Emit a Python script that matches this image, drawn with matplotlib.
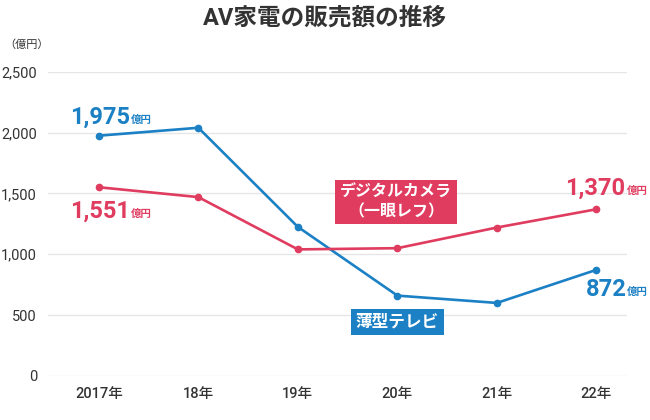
import matplotlib
matplotlib.use('Agg')
import matplotlib.pyplot as plt

plt.rcParams['font.family'] = ['Roboto', 'Noto Sans CJK JP', 'DejaVu Sans']

# data (億円)
years = ['2017年', '18年', '19年', '20年', '21年', '22年']
tv = [1975, 2040, 1225, 660, 600, 872]
camera = [1551, 1470, 1040, 1050, 1220, 1370]
yticks = [0, 500, 1000, 1500, 2000, 2500]

blue = '#1b80c4'
red = '#e03c5f'
dark = '#333333'

fig = plt.figure(figsize=(6.5, 4.2), dpi=100)
ax = fig.add_axes([0.074, 0.105, 0.891, 0.724])

x = range(len(years))
ax.plot(x, tv, color=blue, lw=1.9, marker='o', ms=4.5, zorder=3)
ax.plot(x, camera, color=red, lw=1.9, marker='o', ms=4.5, zorder=3)

ax.set_xlim(-0.51, 5.31)
ax.set_ylim(0, 2500)
ax.set_yticks(yticks)
ax.set_yticklabels([f'{v:,}' for v in yticks], fontsize=10.5, color=dark)
ax.set_xticks(list(x))
ax.set_xticklabels(years, fontsize=10.5, color=dark, fontweight='medium')
ax.tick_params(length=0, pad=8)
ax.grid(axis='y', color='#e6e6e6', lw=1)
ax.set_axisbelow(True)
for s in ax.spines.values():
    s.set_visible(False)


def label(i, vals, color, dx, dy):
    t = ax.annotate(f'{vals[i]:,}', xy=(i, vals[i]), xytext=(dx, dy),
                    textcoords='offset pixels', ha='left', va='center',
                    fontsize=17, fontweight='bold', color=color)
    ax.annotate('億円', xy=(1, 0), xycoords=t, xytext=(1, 4),
                textcoords='offset pixels', ha='left', va='bottom',
                fontsize=7.5, fontweight='bold', color=color)


label(0, tv, blue, -29, 18)
label(0, camera, red, -29, -24)
label(5, camera, red, -31, 21)
label(5, tv, blue, -11, -20)

ax.text(0.601, 0.572, 'デジタルカメラ\n（一眼レフ）', transform=ax.transAxes,
        ha='center', va='center', fontsize=11.5, fontweight='bold', color='white',
        linespacing=1.3,
        bbox=dict(boxstyle='square,pad=0.3', fc=red, ec='none'))
ax.text(0.603, 0.178, '薄型テレビ', transform=ax.transAxes,
        ha='center', va='center', fontsize=12, fontweight='bold', color='white',
        bbox=dict(boxstyle='square,pad=0.3', fc=blue, ec='none'))

fig.text(0.5, 0.958, 'AV家電の販売額の推移', ha='center', va='center',
         fontsize=17, fontweight='bold', color=dark)
fig.text(0.006, 0.893, '（億円）', ha='left', va='center', fontsize=8, color=dark)

fig.savefig('out.png', dpi=100)
